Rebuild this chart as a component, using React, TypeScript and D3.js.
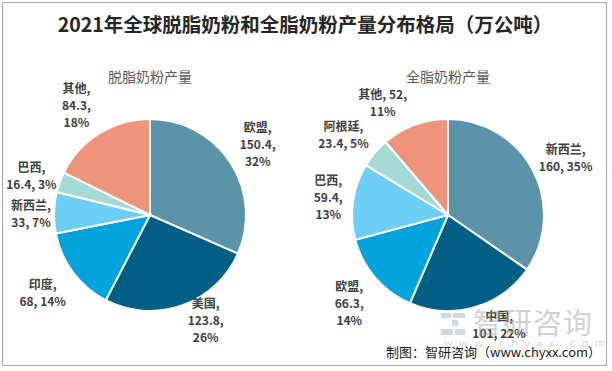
import React from "react";
import * as d3 from "d3";

const skimNames = ["欧盟", "美国", "印度", "新西兰", "巴西", "其他"];
const skimValues = [150.4, 123.8, 68, 33, 16.4, 84.3];
const wholeNames = ["新西兰", "中国", "欧盟", "巴西", "阿根廷", "其他"];
const wholeValues = [160, 101, 66.3, 59.4, 23.4, 52];

const colors = ["#5B93AB", "#015F85", "#00A3DB", "#6DCFF5", "#A4D9D4", "#EF937B"];

// label layout (style): line pattern, radial distance factor, angle tweak (deg)
const skimLayout = [
  { mode: 3, r: 1.34, da: 0 },
  { mode: 3, r: 1.24, da: -8.5 },
  { mode: 2, r: 1.38, da: 1 },
  { mode: 2, r: 1.24, da: -1 },
  { mode: 2, r: 1.3, da: -2 },
  { mode: 3, r: 1.375, da: -2 },
];
const wholeLayout = [
  { mode: 2, r: 1.36, da: 2 },
  { mode: 2, r: 1.26, da: -9 },
  { mode: 3, r: 1.38, da: -1 },
  { mode: 3, r: 1.26, da: 0 },
  { mode: 2, r: 1.37, da: -3 },
  { mode: 1, r: 1.35, da: -10 },
];

const W = 612;
const H = 371;
const R = 96;
const FONT = "'Noto Sans CJK SC', 'Noto Sans', sans-serif";

function Pie({ names, values, layout, cx, cy, subtitle }: any) {
  const data = names.map((n: string, i: number) => ({ name: n, value: values[i] }));
  const total = d3.sum(values as number[]);
  const pie = d3.pie<any>().sort(null).value((d: any) => d.value);
  const arcs = pie(data);
  const arc = d3.arc<any>().innerRadius(0).outerRadius(R);
  return (
    <g>
      <text x={cx} y={cy - 133} textAnchor="middle" fontSize={14} fill="#595959" fontFamily={FONT}>
        {subtitle}
      </text>
      <g transform={`translate(${cx},${cy})`}>
        {arcs.map((a: any, i: number) => (
          <path key={i} d={arc(a) as string} fill={colors[i]} stroke="#fff" strokeWidth={2} />
        ))}
        {arcs.map((a: any, i: number) => {
          const mid = (a.startAngle + a.endAngle) / 2 + (layout[i].da * Math.PI) / 180;
          const lr = R * layout[i].r;
          const x = Math.sin(mid) * lr;
          const y = -Math.cos(mid) * lr;
          const pct = Math.round((a.data.value / total) * 100) + "%";
          const v = String(a.data.value);
          const n = a.data.name;
          let lines: string[];
          if (layout[i].mode === 3) lines = [n + ",", v + ",", pct];
          else if (layout[i].mode === 2) lines = [n + ",", v + ", " + pct];
          else lines = [n + ", " + v + ",", pct];
          const lh = 17;
          const y0 = y - ((lines.length - 1) * lh) / 2 + 4.5;
          return (
            <text key={"l" + i} textAnchor="middle" fontSize={12} fontWeight="bold" fill="#404040" fontFamily={FONT}>
              {lines.map((t, j) => (
                <tspan key={j} x={x} y={y0 + j * lh}>
                  {t}
                </tspan>
              ))}
            </text>
          );
        })}
      </g>
    </g>
  );
}

export default function App() {
  return (
    <svg width={W} height={H} style={{ position: "absolute", left: 0, top: 0 }} fontFamily={FONT}>
      <rect x={0} y={0} width={W} height={H} fill="#fff" />
      <rect x={2.5} y={2.5} width={604} height={363} fill="none" stroke="#a6a6a6" strokeWidth={1} />
      <text x={305} y={32} textAnchor="middle" fontSize={19.5} fontWeight="bold" fill="#262626">
        2021年全球脱脂奶粉和全脂奶粉产量分布格局（万公吨）
      </text>
      <Pie names={skimNames} values={skimValues} layout={skimLayout} cx={150} cy={215} subtitle="脱脂奶粉产量" />
      <Pie names={wholeNames} values={wholeValues} layout={wholeLayout} cx={448} cy={215} subtitle="全脂奶粉产量" />
      {/* watermark */}
      <g opacity={0.5}>
        <rect x={441} y={313} width={10} height={5} fill="#9fb4c9" />
        <rect x={453} y={313} width={12} height={5} fill="#9fb4c9" />
        <rect x={452} y={320} width={6} height={6} fill="#9fb4c9" />
        <rect x={441} y={329} width={12} height={6} fill="#9fb4c9" />
        <rect x={455} y={329} width={10} height={6} fill="#9fb4c9" />
        <text x={473} y={334} fontSize={29} fill="#a6a6a6" letterSpacing={1}>
          智研咨询
        </text>
        <text x={444} y={347} fontSize={11} fill="#b0b0b0" letterSpacing={6.5}>
          www.chyxx.com
        </text>
      </g>
      <text x={386} y={357} fontSize={13} fill="#1a1a1a">
        制图：智研咨询（www.chyxx.com）
      </text>
    </svg>
  );
}
